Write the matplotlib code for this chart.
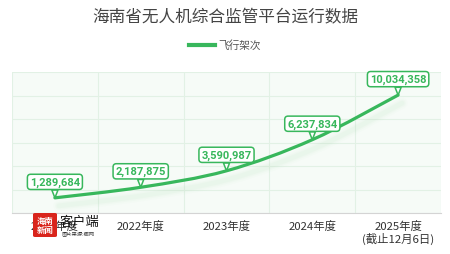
import matplotlib.pyplot as plt
import matplotlib.transforms as mtransforms
from matplotlib.path import Path
from matplotlib.patches import PathPatch, FancyBboxPatch
import numpy as np

plt.rcParams['font.family'] = ['Noto Sans CJK SC', 'DejaVu Sans']

years = ['2021年度', '2022年度', '2023年度', '2024年度', '2025年度\n(截止12月6日)']
flights = [1289684, 2187875, 3590987, 6237834, 10034358]
series_name = '飞行架次'
title = '海南省无人机综合监管平台运行数据'

green = '#38b75c'

fig = plt.figure(figsize=(4.5, 2.55), dpi=100)
ax = fig.add_axes([12 / 450, 1 - 214 / 255, 429 / 450, 141 / 255])
ax.set_facecolor('#f6fbf7')

x = np.arange(len(flights))
y = np.array(flights, dtype=float)


def smooth_path(xs, ys, s=1 / 6):
    # catmull-rom style bezier through the points
    px = np.concatenate([[xs[0]], xs, [xs[-1]]])
    py = np.concatenate([[ys[0]], ys, [ys[-1]]])
    verts = [(xs[0], ys[0])]
    codes = [Path.MOVETO]
    for i in range(1, len(px) - 2):
        c1 = (px[i] + (px[i + 1] - px[i - 1]) * s, py[i] + (py[i + 1] - py[i - 1]) * s)
        c2 = (px[i + 1] - (px[i + 2] - px[i]) * s, py[i + 1] - (py[i + 2] - py[i]) * s)
        verts += [c1, c2, (px[i + 1], py[i + 1])]
        codes += [Path.CURVE4] * 3
    return Path(verts, codes)


path = smooth_path(x, y)

# soft shadow under the line
shadow = mtransforms.offset_copy(ax.transData, fig=fig, x=4, y=-8, units='dots')
for lw, a in [(8, 0.03), (5.5, 0.05), (3.5, 0.07)]:
    ax.add_patch(PathPatch(path, fc='none', ec='#a8dcb5', lw=lw, alpha=a,
                           transform=shadow, capstyle='round', zorder=2))

ax.add_patch(PathPatch(path, fc='none', ec=green, lw=2.3, zorder=3,
                       capstyle='round', joinstyle='round'))
ax.plot(x, y, color=green, lw=0, label=series_name)

for xi, v in zip(x, flights):
    ax.annotate(f'{v:,}', xy=(xi, v), xytext=(0, 11.5), textcoords='offset points',
                ha='center', va='center', fontsize=8, fontweight='bold',
                family=['Roboto', 'DejaVu Sans'], color=green, zorder=5,
                bbox=dict(boxstyle='round,pad=0.22,rounding_size=0.3', fc='white',
                          ec=green, lw=1.1),
                arrowprops=dict(arrowstyle='wedge,tail_width=0.55,shrink_factor=0.5',
                                fc='white', ec=green, lw=1.1, shrinkA=0, shrinkB=0))

ax.set_xlim(-0.5, len(flights) - 0.5)
ax.set_ylim(0, 12000000)
ax.set_yticks(np.arange(0, 12000001, 2000000))
ax.set_yticklabels([])
ax.set_xticks(x)
ax.set_xticklabels(years, fontsize=8.2, color='#333333', linespacing=1.1)
ax.set_xticks(np.arange(-0.5, len(flights), 1), minor=True)
ax.tick_params(axis='both', length=0, which='both')
ax.tick_params(axis='x', pad=5)
ax.grid(True, axis='y', color='#e2f1e5', lw=0.8)
ax.grid(True, axis='x', which='minor', color='#e2f1e5', lw=0.8)
ax.grid(False, axis='x', which='major')
for side in ['top', 'left', 'right']:
    ax.spines[side].set_visible(False)
ax.spines['bottom'].set_color('#d4d4d4')
ax.set_axisbelow(True)

fig.text(0.5, 1 - 17.5 / 255, title, ha='center', va='center', fontsize=12, color='#444444')

leg_line = plt.Line2D([], [], color=green, lw=3)
fig.legend([leg_line], [series_name], loc='center', bbox_to_anchor=(0.5, 1 - 46 / 255),
           frameon=False, fontsize=7.7, handlelength=2.4, handletextpad=0.3,
           labelcolor='#555555')

# watermark logo
fig.patches.append(FancyBboxPatch((33 / 450, 1 - 238 / 255), 24 / 450, 24 / 255,
                                  boxstyle='round,pad=0,rounding_size=0.005',
                                  fc='#d9251c', ec='none', transform=fig.transFigure,
                                  zorder=4))
fig.text(45 / 450, 1 - 226 / 255, '海南\n新闻', ha='center', va='center', fontsize=6,
         color='white', fontweight='bold', linespacing=1.0, zorder=5)
fig.text(60 / 450, 1 - 222 / 255, '客户端', ha='left', va='center', fontsize=9.5,
         color='#111111', zorder=5)
fig.text(61 / 450, 1 - 234 / 255, '图片来源:椰网', ha='left', va='center', fontsize=3.8,
         color='#333333', zorder=5)

fig.savefig('out.png', dpi=100, facecolor='white')
